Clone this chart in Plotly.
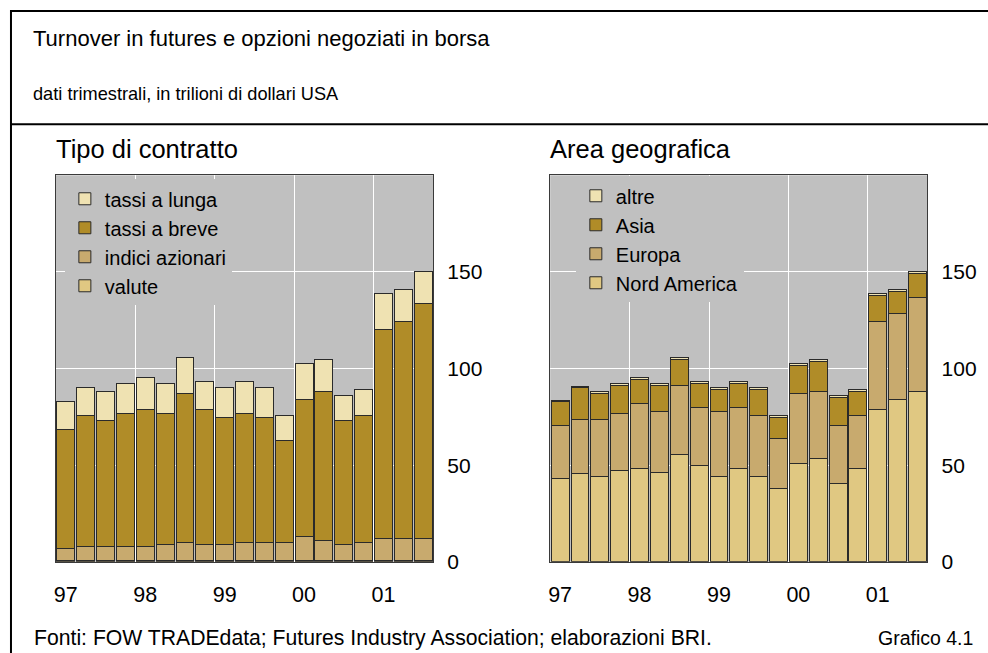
import plotly.graph_objects as go

# ---------------- data ----------------
quarters = list(range(19))  # 1997Q1 .. 2001Q3
year_tick_pos = [0, 4, 8, 12, 16]
year_labels = ["97", "98", "99", "00", "01"]

# Tipo di contratto
valute = [0.8, 0.8, 0.8, 0.8, 0.8, 0.8, 0.8, 0.8, 0.8, 0.8, 0.8, 0.8, 0.8, 0.8, 0.8, 0.8, 0.8, 0.8, 0.8]
indici_azionari = [6.1, 7.1, 7.1, 7.1, 7.1, 8.1, 9.2, 8.1, 8.1, 9.2, 9.2, 9.2, 12.3, 10.2, 8.1, 9.2, 11.2, 11.2, 11.2]
tassi_breve = [61.8, 68.0, 65.0, 68.9, 71.1, 67.9, 77.3, 70.1, 66.0, 66.8, 64.9, 52.7, 71.1, 77.3, 64.0, 65.9, 108.3, 112.1, 121.5]
tassi_lunga = [14.5, 14.3, 15.2, 15.6, 16.5, 15.6, 18.5, 14.5, 15.3, 16.7, 15.3, 13.2, 18.5, 16.5, 13.4, 13.4, 18.4, 16.8, 16.7]

# Area geografica
nord_america = [43.1, 45.9, 44.2, 47.1, 48.1, 46.0, 55.3, 50.0, 44.2, 48.1, 44.2, 37.8, 51.0, 53.4, 40.7, 48.1, 79.0, 84.2, 88.3]
europa = [27.7, 28.0, 29.7, 29.7, 34.0, 32.0, 36.1, 29.9, 33.8, 31.8, 31.7, 25.8, 36.3, 34.9, 30.1, 27.8, 45.1, 44.3, 48.5]
asia = [12.4, 16.1, 13.4, 14.6, 12.4, 13.4, 13.4, 12.5, 11.3, 12.5, 13.4, 11.3, 14.4, 15.5, 14.4, 12.4, 13.7, 11.4, 12.3]
altre = [0.3, 0.9, 0.9, 1.0, 1.0, 1.0, 1.0, 1.0, 0.9, 1.0, 0.9, 1.0, 1.0, 1.0, 1.0, 1.0, 0.9, 1.0, 1.0]

# ---------------- styling ----------------
C_PALE = "#efe2b2"
C_DARK = "#b08c28"
C_MID = "#c8aa6e"
C_LIGHT = "#e0c882"
BG = "#c0c0c0"
FONT = "Liberation Sans, Arial, sans-serif"
W, H = 988, 653          # reference canvas used for placement fractions
FIG_H = 665              # actual page height captured by the renderer

fig = go.Figure()

left_series = [("valute", valute, C_LIGHT), ("indici azionari", indici_azionari, C_MID),
               ("tassi a breve", tassi_breve, C_DARK), ("tassi a lunga", tassi_lunga, C_PALE)]
right_series = [("Nord America", nord_america, C_LIGHT), ("Europa", europa, C_MID),
                ("Asia", asia, C_DARK), ("altre", altre, C_PALE)]

for name, vals, col in left_series:
    fig.add_trace(go.Bar(x=quarters, y=vals, name=name, marker=dict(color=col, line=dict(color="#2a2a2a", width=1)),
                         xaxis="x", yaxis="y", legend="legend", hoverinfo="skip"))
for name, vals, col in right_series:
    fig.add_trace(go.Bar(x=quarters, y=vals, name=name, marker=dict(color=col, line=dict(color="#2a2a2a", width=1)),
                         xaxis="x2", yaxis="y2", legend="legend2", hoverinfo="skip"))

def px_x(p):
    return p / W

def px_y(p):
    return 1 - p / H

dom1 = [54 / W, 432 / W]
dom2 = [549.3 / W, 927.3 / W]
ydom = [px_y(561), px_y(175)]

xcommon = dict(range=[-0.5, 18.5], tickvals=year_tick_pos, ticktext=year_labels, showgrid=False,
               ticks="", ticklabelstandoff=13, tickfont=dict(family=FONT, size=21.5, color="black"),
               showline=True, linecolor="#3a3a3a", linewidth=1, mirror=True, zeroline=False,
               minor=dict(tick0=3.5, dtick=4, showgrid=True, gridcolor="white", gridwidth=1, ticks=""))
ycommon = dict(range=[0, 200], tickvals=[0, 50, 100, 150], side="right", showgrid=True, gridcolor="white",
               gridwidth=1, ticks="", ticklabelstandoff=9, tickfont=dict(family=FONT, size=21, color="black"),
               showline=True, linecolor="#3a3a3a", linewidth=1, mirror=True, zeroline=False)

leg_common = dict(bgcolor=BG, borderwidth=0, traceorder="reversed", font=dict(family=FONT, size=20, color="black"),
                  xanchor="left", yanchor="top", itemclick=False, itemdoubleclick=False)

fig.update_layout(
    width=W, height=FIG_H, margin=dict(l=0, r=0, t=0, b=0), paper_bgcolor="white", plot_bgcolor=BG,
    barmode="stack", bargap=0.1, showlegend=True,
    xaxis=dict(domain=dom1, anchor="y", **xcommon),
    yaxis=dict(domain=ydom, anchor="x", **ycommon),
    xaxis2=dict(domain=dom2, anchor="y2", **xcommon),
    yaxis2=dict(domain=ydom, anchor="x2", **ycommon),
    legend=dict(x=px_x(63), y=px_y(179), **leg_common),
    legend2=dict(x=px_x(575), y=px_y(176), **leg_common),
    font=dict(family=FONT, color="black"),
)

annotations = [
    dict(text="Turnover in futures e opzioni negoziati in borsa", x=px_x(29), y=px_y(38), size=22),
    dict(text="dati trimestrali, in trilioni di dollari USA", x=px_x(29), y=px_y(94), size=18.2),
    dict(text="Tipo di contratto", x=px_x(52), y=px_y(149), size=25.5),
    dict(text="Area geografica", x=px_x(547), y=px_y(149), size=25.5),
    dict(text="Fonti: FOW TRADEdata; Futures Industry Association; elaborazioni BRI.", x=px_x(30), y=px_y(637), size=21.2),
]
for a in annotations:
    fig.add_annotation(text=a["text"], x=a["x"], y=a["y"], xref="paper", yref="paper", xanchor="left",
                       yanchor="middle", showarrow=False, font=dict(family=FONT, size=a["size"], color="black"))
fig.add_annotation(text="Grafico 4.1", x=px_x(975), y=px_y(637), xref="paper", yref="paper", xanchor="right",
                   yanchor="middle", showarrow=False, font=dict(family=FONT, size=19.5, color="black"))

# frame lines (decoration)
fig.add_shape(type="line", xref="paper", yref="paper", x0=px_x(9), x1=1, y0=px_y(11), y1=px_y(11),
              line=dict(color="black", width=2))
fig.add_shape(type="line", xref="paper", yref="paper", x0=px_x(9), x1=1, y0=px_y(124), y1=px_y(124),
              line=dict(color="black", width=2))
fig.add_shape(type="line", xref="paper", yref="paper", x0=px_x(9), x1=px_x(9), y0=px_y(10), y1=0,
              line=dict(color="black", width=2))

page_fix = (
    "var e=document.documentElement,b=document.body;"
    "e.style.margin='0';e.style.padding='0';e.style.overflow='hidden';"
    "b.style.margin='0';b.style.padding='0';b.style.overflow='hidden';"
)
fig.write_html("out.html", post_script=page_fix, config={"displayModeBar": False, "staticPlot": True})
